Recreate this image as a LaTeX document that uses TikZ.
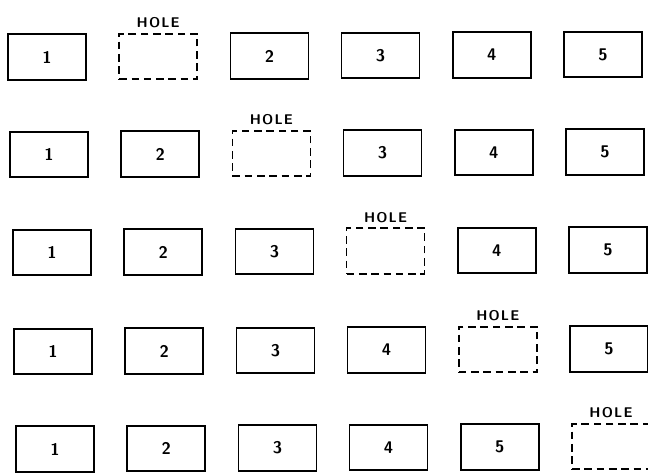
\documentclass[tikz,border=0pt]{standalone}
\usetikzlibrary{positioning}
\begin{document}
\begin{tikzpicture}[
    x=0.03cm, y=-0.03cm,
    slot/.style={draw, line width=1.5pt, minimum width=2.34cm, minimum height=1.36cm, inner sep=0pt, font=\sffamily\bfseries\Large},
    holebox/.style={slot, dash pattern=on 6.5pt off 4pt},
    lbl/.style={font=\sffamily\bfseries\large, inner sep=1pt},
]
\useasboundingbox (0,0) rectangle (648,473);

% ---------------------------------------------------------- rows ---
% row / hole column / y of row / x drift
\foreach \r/\h/\y/\dx in {1/1/57/0, 2/2/154.5/2, 3/3/252.5/5, 4/4/351.5/6, 5/5/449/8} {
  \foreach \c in {0,...,5} {
    \pgfmathtruncatemacro\n{\c<\h ? \c+1 : \c}
    \ifnum\c=\h
      \node[holebox] (slot\r\c) at ({47+111.2*\c+\dx},{\y-0.5*\c}) {};
      \node[lbl, above=3pt of slot\r\c] (hole\r) {H\kern1pt O\kern1pt L\kern1pt E};
    \else
      \node[slot] (slot\r\c) at ({47+111.2*\c+\dx},{\y-0.5*\c}) {\n};
    \fi
  }
}

\end{tikzpicture}
\end{document}
